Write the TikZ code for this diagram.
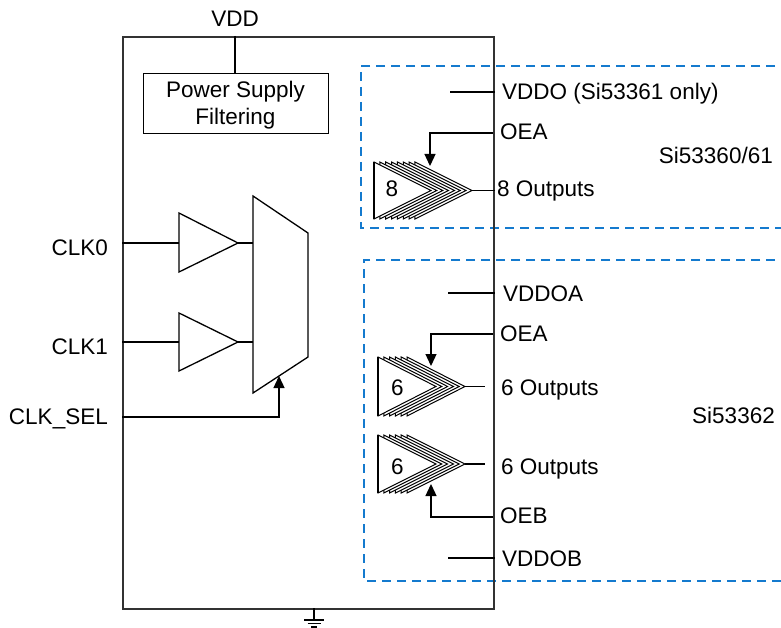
\documentclass[tikz,border=0pt]{standalone}
\usepackage{fontspec}
\setmainfont{Liberation Sans}
\usetikzlibrary{arrows.meta}
\definecolor{dashblue}{RGB}{20,122,206}
\definecolor{boxgray}{RGB}{50,50,50}
\begin{document}
\begin{tikzpicture}[x=1pt,y=-1pt,
  lbl/.style={inner sep=0pt, font=\fontsize{22.5}{27}\selectfont},
  wire/.style={line width=1.3pt, black},
  arr/.style={wire, -{Triangle[length=12pt,width=11pt]}},
  grp/.style={dashblue, line width=1.5pt, dash pattern=on 9pt off 6pt},
  buf/.style={line width=1.3pt, black, fill=white, line join=miter},
  stk/.style={line width=1pt, black, fill=white, line join=miter},
]
\useasboundingbox (0,0) rectangle (781,628);

% group boxes
\draw[grp] (790,66) -| (361,228) -- (790,228);
\draw[grp] (790,260) -| (364,581) -- (790,581);

% chip outline
\node[draw=boxgray, line width=1.8pt, minimum width=371, minimum height=572, anchor=north west, inner sep=0] (chip) at (122,36) {};

% VDD and power supply filtering
\node[lbl, anchor=base] (vdd) at (235,27) {VDD};
\node[draw, line width=1.3pt, minimum width=185, minimum height=60, anchor=north west, inner sep=0] (psf) at (143,73) {};
\node[lbl, anchor=base] (psf1) at (235.5,98) {Power Supply};
\node[lbl, anchor=base] (psf2) at (235.5,125) {Filtering};
\coordinate (vddtop) at (235,36);
\draw[wire] (vddtop) -- (psf.north -| vddtop);

% input labels
\node[lbl, anchor=base east] (clk0) at (108,255) {CLK0};
\node[lbl, anchor=base east] (clk1) at (108,354) {CLK1};
\node[lbl, anchor=base east] (clksel) at (108,424) {CLK\_SEL};

% input buffers
\coordinate (b0a) at (179,213); \coordinate (b0b) at (179,272); \coordinate (b0t) at (238,243);
\coordinate (b1a) at (179,313); \coordinate (b1b) at (179,371); \coordinate (b1t) at (238,342);
\draw[buf] (b0a) -- (b0b) -- (b0t) -- cycle;
\draw[buf] (b1a) -- (b1b) -- (b1t) -- cycle;

% mux
\coordinate (mux1) at (253,196); \coordinate (mux2) at (308,233);
\coordinate (mux3) at (308,357); \coordinate (mux4) at (253,393);
\draw[buf] (mux1) -- (mux2) -- (mux3) -- (mux4) -- cycle;
\coordinate (muxsel) at (279,376);

\coordinate (in0) at (122,243); \coordinate (in1) at (122,342); \coordinate (insel) at (122,417);
\draw[wire] (in0) -- (in0 -| b0a);
\draw[wire] (in1) -- (in1 -| b1a);
\draw[wire] (b0t) -- (b0t -| mux1);
\draw[wire] (b1t) -- (b1t -| mux1);
\draw[arr] (insel) -| (muxsel);

% ground
\coordinate (gnd) at (314,608);
\draw[wire] (gnd) -- ++(0,12);
\draw[wire] (304,620) -- (324,620);
\draw[wire] (307.5,623.5) -- (320.5,623.5);
\draw[wire] (311,627) -- (317,627);

% ---- Si53360/61 group ----
\node[lbl, anchor=base west] (vddo) at (502,100) {VDDO (Si53361 only)};
\node[lbl, anchor=base west] (oea1) at (500,140) {OEA};
\node[lbl, anchor=base east] (g1) at (773,164) {Si53360/61};
\node[lbl, anchor=base west] (out8) at (497,197) {8 Outputs};
\coordinate (vddoin) at (450,92);
\draw[wire] (vddoin) -- (vddoin -| chip.east);

\foreach \k in {7,...,0} {
  \draw[stk] (374+5.85*\k,162) -- (374+5.85*\k,219) -- (431+5.85*\k,190.5) -- cycle;
}
\draw[buf] (374,162) -- (374,219);
\node[lbl, anchor=base] (n8) at (392,197) {8};
\coordinate (tip8) at (472,190.5);
\draw[wire] (tip8) -- (tip8 -| chip.east);
\coordinate (oea1p) at (493,133);
\draw[arr] (oea1p) -| (430,166);

% ---- Si53362 group ----
\node[lbl, anchor=base west] (vddoa) at (503,301) {VDDOA};
\node[lbl, anchor=base west] (oea2) at (500,341) {OEA};
\node[lbl, anchor=base west] (out6a) at (501,395) {6 Outputs};
\node[lbl, anchor=base east] (g2) at (775,423) {Si53362};
\node[lbl, anchor=base west] (out6b) at (501,474) {6 Outputs};
\node[lbl, anchor=base west] (oeb) at (500,523) {OEB};
\node[lbl, anchor=base west] (vddob) at (502,566) {VDDOB};

\coordinate (vddoain) at (448,293);
\draw[wire] (vddoain) -- (vddoain -| chip.east);
\coordinate (vddobin) at (448,558);
\draw[wire] (vddobin) -- (vddobin -| chip.east);

\foreach \k in {5,...,0} {
  \draw[stk] (378+5.8*\k,357) -- (378+5.8*\k,416) -- (436+5.8*\k,386.5) -- cycle;
}
\draw[buf] (378,357) -- (378,416);
\node[lbl, anchor=base] (n6a) at (397.5,395) {6};
\coordinate (tip6a) at (465,386.5);
\draw[wire] (tip6a) -- (485,386.5);
\coordinate (oea2p) at (493,334);
\draw[arr] (oea2p) -| (431,366);

\foreach \k in {5,...,0} {
  \draw[stk] (378+5.8*\k,435) -- (378+5.8*\k,493) -- (436+5.8*\k,464) -- cycle;
}
\draw[buf] (378,435) -- (378,493);
\node[lbl, anchor=base] (n6b) at (397.5,474) {6};
\coordinate (tip6b) at (465,464);
\draw[wire] (tip6b) -- (485,464);
\coordinate (oebp) at (493,517);
\draw[arr] (oebp) -| (431,484);

\end{tikzpicture}
\end{document}
